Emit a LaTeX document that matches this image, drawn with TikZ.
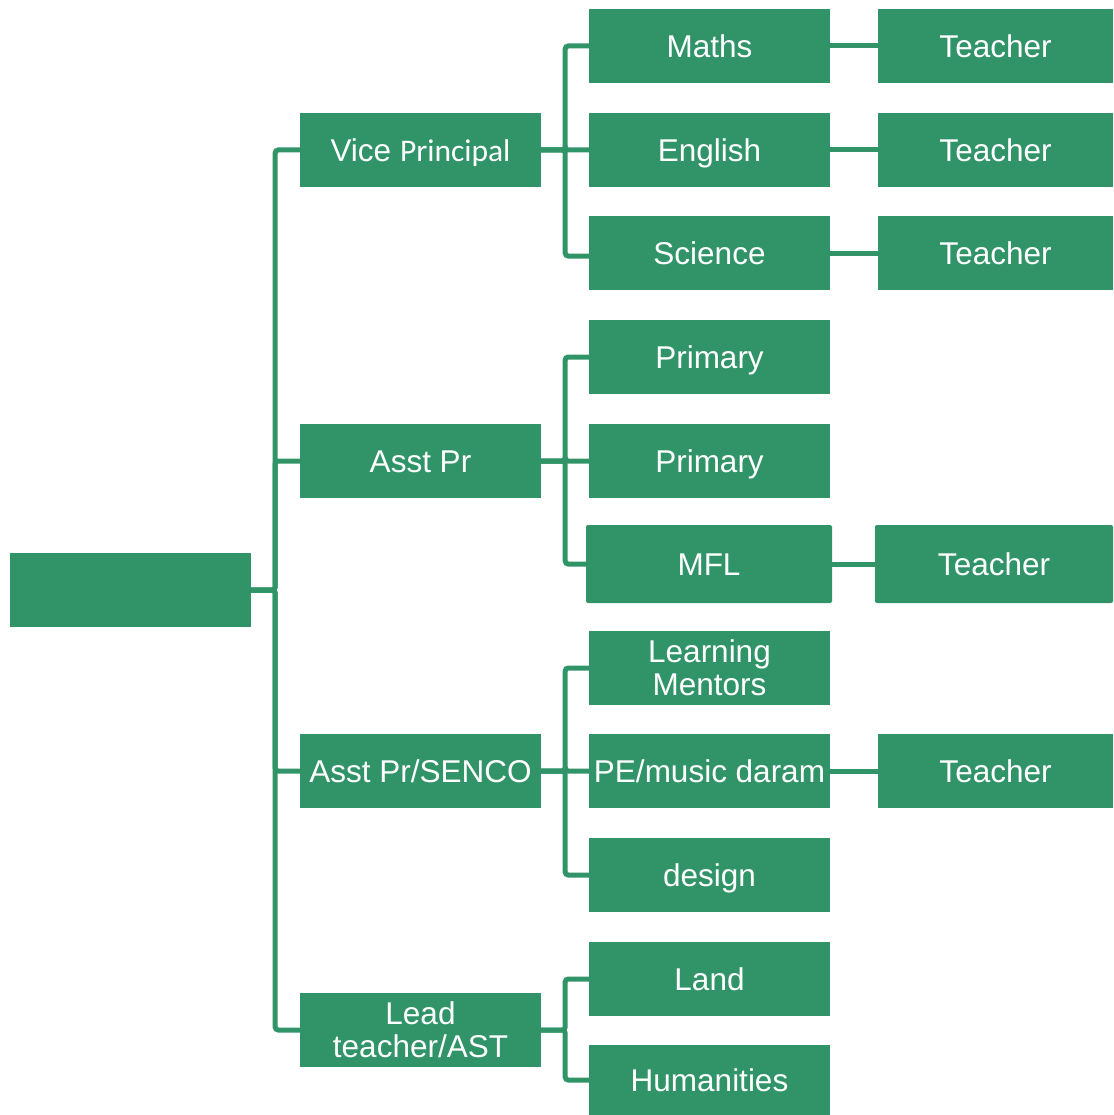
\documentclass[tikz,border=0pt]{standalone}
\usepackage{fontspec}
\setmainfont{Liberation Sans}
\newfontfamily\carlito{Carlito}
\definecolor{orgGreen}{RGB}{49,148,104}
\begin{document}
\begin{tikzpicture}[x=1pt,y=-1pt,
  box/.style={fill=orgGreen, text=white, inner sep=0pt,
    minimum width=241pt, minimum height=74pt,
    font=\fontsize{31.5}{33}\selectfont, text height=22.5pt, text depth=0pt},
  twoline/.style={align=center, text height=55.5pt, text depth=0pt},
  link/.style={draw=orgGreen, line width=5pt, rounded corners=3pt}]
\useasboundingbox (0,0) rectangle (1113,1115);

% head of the chart
\node[box] (root) at (130.5,590) {};

% second tier
\node[box] (vp)    at (420.5,150)  {Vice {\carlito Principal}};
\node[box] (ap)    at (420.5,461)  {Asst Pr};
\node[box] (senco) at (420.5,771)  {Asst Pr/SENCO};
\node[box,twoline] (lead) at (420.5,1030) {Lead\\teacher/AST};

% departments
\node[box] (maths)   at (709.5,46)  {Maths};
\node[box] (english) at (709.5,150) {English};
\node[box] (science) at (709.5,253) {Science};
\node[box] (prim1)   at (709.5,357) {Primary};
\node[box] (prim2)   at (709.5,461) {Primary};
\node[box, minimum width=246pt, minimum height=78pt, rounded corners=2pt] (mfl) at (709,564) {MFL};
\node[box,twoline] (mentors) at (709.5,668) {Learning\\Mentors};
\node[box] (pe)      at (709.5,771) {PE/music daram};
\node[box] (design)  at (709.5,875) {design};
\node[box] (land)    at (709.5,979) {Land};
\node[box, minimum height=70pt] (hum) at (709.5,1080) {Humanities};

% teachers
\node[box, minimum width=235pt] (t1) at (995.5,46)  {Teacher};
\node[box, minimum width=235pt] (t2) at (995.5,150) {Teacher};
\node[box, minimum width=235pt] (t3) at (995.5,253) {Teacher};
\node[box, minimum width=238pt, minimum height=78pt, rounded corners=2pt] (t4) at (994,564) {Teacher};
\node[box, minimum width=235pt] (t5) at (995.5,771) {Teacher};

% connectors from the head
\foreach \c in {vp,ap,senco,lead}
  \draw[link] (root.east) -- ++(24,0) |- (\c.west);

% connectors to departments
\foreach \c in {maths,english}
  \draw[link] (vp.east) -- ++(24,0) |- (\c.west);
\draw[link] (vp.east) -- ++(24,0) |- ([yshift=-3pt]science.west);
\foreach \c in {prim1,prim2,mfl}
  \draw[link] (ap.east) -- ++(24,0) |- (\c.west);
\foreach \c in {mentors,pe,design}
  \draw[link] (senco.east) -- ++(24,0) |- (\c.west);
\foreach \c in {land,hum}
  \draw[link] (lead.east) -- ++(24,0) |- (\c.west);

% connectors to teachers
\draw[link] (maths) -- (t1);
\draw[link] (english) -- (t2);
\draw[link] (science) -- (t3);
\draw[link] (mfl) -- (t4);
\draw[link] (pe) -- (t5);
\end{tikzpicture}
\end{document}
